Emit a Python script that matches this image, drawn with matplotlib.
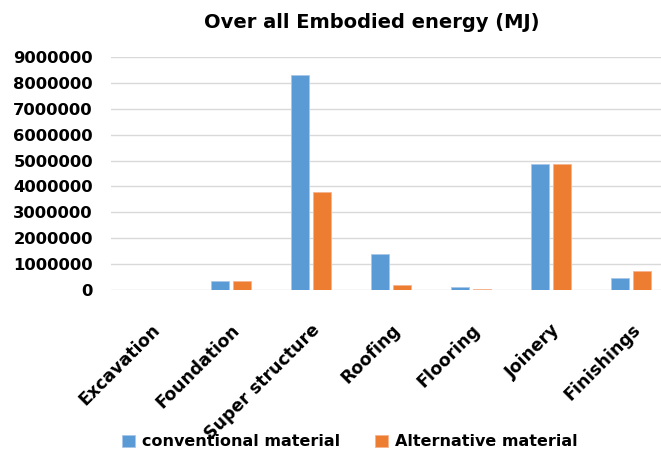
import matplotlib.pyplot as plt
import numpy as np
from matplotlib.ticker import MultipleLocator

# Embodied energy per building element (MJ)
categories = ['Excavation', 'Foundation', 'Super structure', 'Roofing',
              'Flooring', 'Joinery', 'Finishings']
conventional = [0, 350000, 8300000, 1380000, 100000, 4880000, 470000]
alternative = [0, 350000, 3770000, 190000, 25000, 4880000, 740000]

blue = '#5B9BD5'
orange = '#ED7D31'

plt.rcParams['font.family'] = 'DejaVu Sans'
plt.rcParams['font.weight'] = 'bold'

fig = plt.figure(figsize=(6.61, 4.53), dpi=100)
# plot area runs past the right edge of the image, as in the original
ax = fig.add_axes([111 / 661, 1 - 290 / 453, 560 / 661, (290 - 57) / 453])

x = np.arange(len(categories))
w = 0.225
ax.bar(x - 0.1375, conventional, w, color=blue, label='conventional material',
       edgecolor='#a9c8ea', linewidth=0.6, zorder=3)
ax.bar(x + 0.1375, alternative, w, color=orange, label='Alternative material',
       edgecolor='#f5b48f', linewidth=0.6, zorder=3)

ax.set_xlim(-0.5, len(categories) - 0.5)
ax.set_ylim(0, 9000000)
ax.yaxis.set_major_locator(MultipleLocator(1000000))
ax.yaxis.set_major_formatter(lambda v, p: f'{v:.0f}')
ax.grid(axis='y', color='#d9d9d9', linewidth=1, zorder=0)
for s in ax.spines.values():
    s.set_visible(False)
ax.tick_params(axis='both', length=0, labelsize=11.8, colors='black')
ax.tick_params(axis='y', pad=13)

ax.set_xticks(x)
ax.set_xticklabels(categories, rotation=45, ha='right', rotation_mode='anchor',
                   fontsize=12.5, fontweight='bold')
ax.tick_params(axis='x', pad=22)

fig.text(0.563, 0.951, 'Over all Embodied energy (MJ)', ha='center', va='center',
         fontsize=14, fontweight='bold')

fig.legend(loc='center', bbox_to_anchor=(350 / 661, 1 - 442 / 453), ncol=2,
           frameon=False, fontsize=11.5, handlelength=0.8, handleheight=0.8,
           columnspacing=2.2, handletextpad=0.45)

fig.savefig('out.png', dpi=100)
